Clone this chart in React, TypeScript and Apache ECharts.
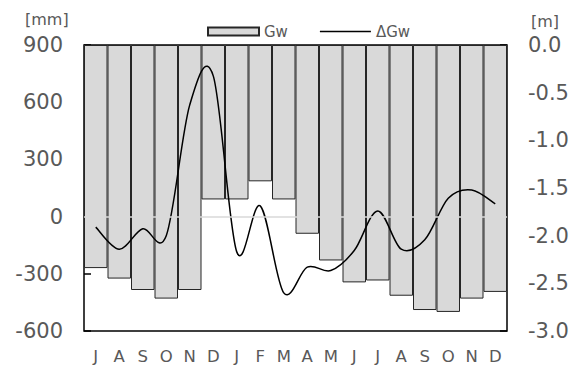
import React, { useEffect, useRef } from "react";
import * as echarts from "echarts";

const months = ["J", "A", "S", "O", "N", "D", "J", "F", "M", "A", "M", "J", "J", "A", "S", "O", "N", "D"];
// Gw (bars, right axis, m)
const gw = [-2.34, -2.45, -2.57, -2.66, -2.57, -1.62, -1.62, -1.43, -1.62, -1.98, -2.26, -2.49, -2.47, -2.63, -2.78, -2.8, -2.66, -2.59];
// ΔGw (line, left axis, mm)
const dGw = [-55, -171, -64, -100, 586, 738, -185, 56, -400, -265, -283, -178, 30, -171, -122, 96, 140, 67];

const leftMin = -600, leftMax = 900, leftInterval = 300;
const rightMin = -3, rightMax = 0, rightInterval = 0.5;

const FONT = "DejaVu Sans";
const GREY = "#595959";

function smoothPath(pts: number[][]): string {
  // Catmull-Rom style bezier through the projected points
  let d = `M${pts[0][0]},${pts[0][1]}`;
  for (let i = 0; i < pts.length - 1; i++) {
    const p0 = pts[i - 1] || pts[i];
    const p1 = pts[i];
    const p2 = pts[i + 1];
    const p3 = pts[i + 2] || p2;
    const c1x = p1[0] + (p2[0] - p0[0]) / 6;
    const c1y = p1[1] + (p2[1] - p0[1]) / 6;
    const c2x = p2[0] - (p3[0] - p1[0]) / 6;
    const c2y = p2[1] - (p3[1] - p1[1]) / 6;
    d += ` C${c1x},${c1y} ${c2x},${c2y} ${p2[0]},${p2[1]}`;
  }
  return d;
}

export default function App() {
  const ref = useRef<HTMLDivElement>(null);
  useEffect(() => {
    if (!ref.current) return;
    const chart = echarts.init(ref.current, null, { renderer: "svg" });
    chart.setOption({
      animation: false,
      textStyle: { fontFamily: FONT },
      grid: { left: 84, right: 74, top: 45, bottom: 36, show: true, borderColor: "#000", borderWidth: 1.5, backgroundColor: "transparent" },
      legend: {
        top: 19,
        left: 202,
        itemWidth: 51,
        itemHeight: 8,
        itemGap: 32,
        textStyle: { fontFamily: FONT, fontSize: 15, color: GREY },
        data: [
          { name: "Gw", icon: "rect" },
          { name: "ΔGw", icon: "path://M0,0H51V1.5H0Z", itemStyle: { color: "#000" } },
        ],
      },
      graphic: [
        { type: "text", left: 25, top: 11, style: { text: "[mm]", fontFamily: FONT, fontSize: 16, fill: GREY } },
        { type: "text", left: 531, top: 13, style: { text: "[m]", fontFamily: FONT, fontSize: 16, fill: GREY } },
      ],
      xAxis: {
        type: "category",
        data: months,
        axisLine: { show: false },
        axisTick: { show: false },
        axisLabel: { color: GREY, fontSize: 16.5, margin: 17, fontFamily: FONT },
      },
      yAxis: [
        {
          type: "value",
          min: leftMin,
          max: leftMax,
          interval: leftInterval,
          position: "left",
          axisLine: { show: false },
          axisTick: { show: true, inside: true, length: 7, lineStyle: { color: "#000", width: 1.5 } },
          splitLine: { show: false },
          axisLabel: { color: GREY, fontSize: 21, margin: 21, fontFamily: FONT },
        },
        {
          type: "value",
          min: rightMin,
          max: rightMax,
          interval: rightInterval,
          position: "right",
          axisLine: { show: false },
          axisTick: { show: true, inside: true, length: 7, lineStyle: { color: "#000", width: 1.5 } },
          splitLine: { show: false },
          axisLabel: { color: GREY, fontSize: 21, margin: 21, fontFamily: FONT, formatter: (v: number) => v.toFixed(1) },
        },
      ],
      series: [
        {
          name: "Gw",
          type: "bar",
          yAxisIndex: 1,
          data: gw,
          barCategoryGap: "0%",
          itemStyle: { color: "#d9d9d9", borderColor: "#262626", borderWidth: 1 },
        },
        {
          name: "ΔGw",
          type: "custom",
          yAxisIndex: 0,
          data: dGw.map((v, i) => [i, v]),
          itemStyle: { color: "#000" },
          renderItem: (params: any, api: any) => {
            if (params.dataIndex !== 0) return { type: "group", children: [] };
            const pts = dGw.map((v, i) => api.coord([i, v]));
            return {
              type: "path",
              shape: { pathData: smoothPath(pts) },
              style: { stroke: "#000", lineWidth: 1.5, fill: "none" },
            };
          },
          markLine: {
            silent: true,
            symbol: "none",
            label: { show: false },
            lineStyle: { color: "#d9d9d9", width: 1.5, type: "solid" },
            data: [{ yAxis: 0 }],
          },
          z: 3,
        },
      ],
    });
    return () => chart.dispose();
  }, []);
  return <div ref={ref} style={{ width: 581, height: 367, position: "absolute", left: 0, top: 0 }} />;
}
